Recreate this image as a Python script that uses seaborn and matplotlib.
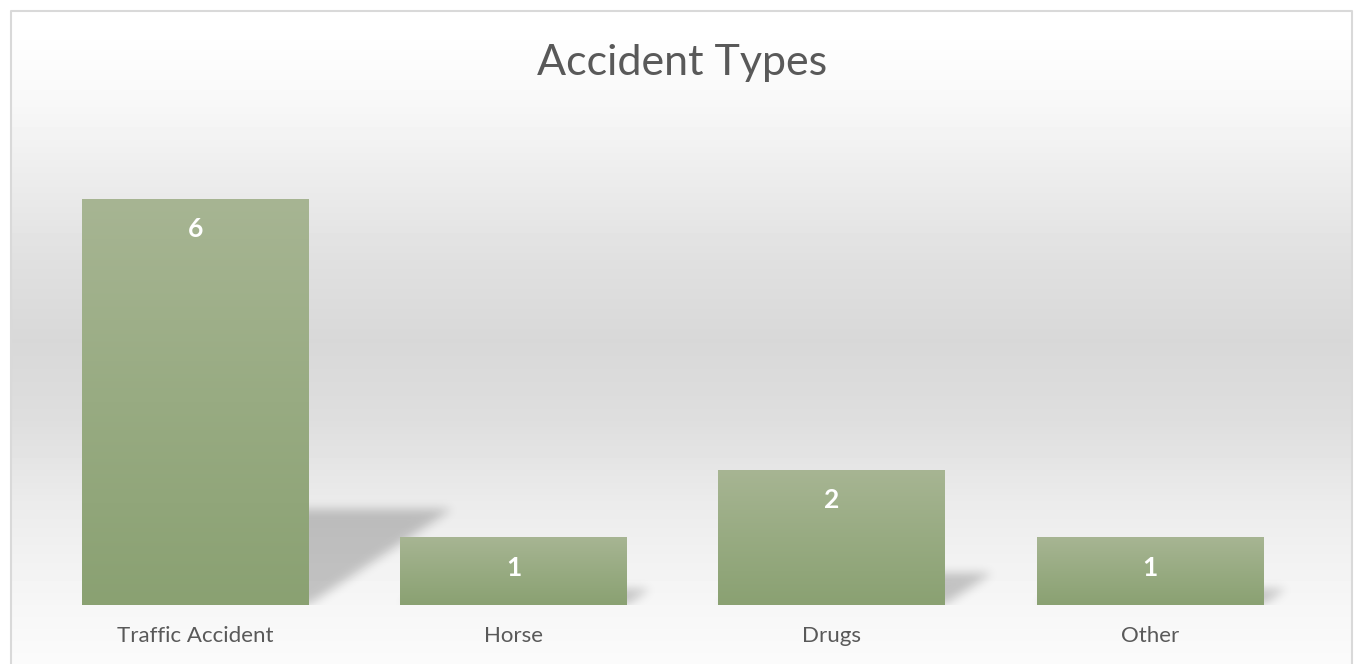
import numpy as np
import pandas as pd
import matplotlib
matplotlib.use("Agg")
import matplotlib.pyplot as plt
import seaborn as sns
from matplotlib.path import Path
from matplotlib.colors import LinearSegmentedColormap

# data
categories = ["Traffic Accident", "Horse", "Drugs", "Other"]
counts = [6, 1, 2, 1]
title = "Accident Types"

df = pd.DataFrame({"Type": categories, "Count": counts})

sns.set_theme(style="white")
plt.rcParams["font.family"] = ["Lato", "DejaVu Sans"]

W, H = 1356, 664
fig = plt.figure(figsize=(W / 100, H / 100), dpi=100)
fig.patch.set_facecolor("white")

# background: soft vertical grey gradient inside a light frame
bg = fig.add_axes([0, 0, 1, 1], zorder=0)
bg.set_axis_off()
rows = np.arange(H)
grey = np.interp(rows, [10, 40, 100, 180, 260, 340, 420, 500, 580, 664],
                 [255, 254, 248, 236, 224, 216, 222, 235, 244, 251]) / 255
img = np.tile(grey[:, None], (1, W))
img[:10, :] = 1
img[:, :11] = 1
img[:, 1353:] = 1
bg.imshow(img, cmap="gray", vmin=0, vmax=1, extent=[0, W, H, 0], aspect="auto")
bg.plot([11, 11, 1352, 1352], [H, 10.5, 10.5, H], color="#d9d9d9", lw=1.5)
bg.set_xlim(0, W)
bg.set_ylim(H, 0)

# plot area
AX_W, AX_H = 1273, 474
ax = fig.add_axes([36 / W, 59 / H, AX_W / W, AX_H / H], zorder=1)
ax.patch.set_alpha(0)
sns.barplot(data=df, x="Type", y="Count", color="#98ab80", saturation=1,
            width=0.711, ax=ax, zorder=3, edgecolor="none", linewidth=0)

XLIM, YLIM = (-0.5, 3.5), (0, 7)

# blurred perspective shadows behind the bars
gx = np.linspace(XLIM[0], XLIM[1], AX_W)
gy = np.linspace(YLIM[0], YLIM[1], AX_H)
GX, GY = np.meshgrid(gx, gy)
grid_pts = np.column_stack([GX.ravel(), GY.ravel()])
shadow = np.zeros((AX_H, AX_W))
keep = np.zeros((AX_H, AX_W))
for p in ax.patches:
    x0, w, h = p.get_x(), p.get_width(), p.get_height()
    x1 = x0 + w
    dx, dy = 0.075 * h, 0.235 * h
    poly = Path([(x0, 0), (x1, 0), (x1 + dx, dy), (x0 + dx, dy), (x0, 0)])
    shadow = np.maximum(shadow, poly.contains_points(grid_pts).reshape(AX_H, AX_W))
    keep[:, gx >= x0] = 1

k = np.arange(-15, 16)
kernel = np.exp(-k ** 2 / (2 * 5.0 ** 2))
kernel /= kernel.sum()
shadow = np.apply_along_axis(lambda r: np.convolve(r, kernel, mode="same"), 1, shadow)
shadow = np.apply_along_axis(lambda c: np.convolve(c, kernel, mode="same"), 0, shadow)
shadow *= keep
rgba = np.zeros((AX_H, AX_W, 4))
rgba[..., 3] = 0.21 * shadow
ax.imshow(rgba, extent=[XLIM[0], XLIM[1], YLIM[0], YLIM[1]], origin="lower",
          aspect="auto", zorder=2, interpolation="bilinear")

bar_cmap = LinearSegmentedColormap.from_list("bar", ["#8aa172", "#98ab82", "#a7b593"])
grad = np.linspace(0, 1, 256)[:, None]

for p, v in zip(ax.patches, counts):
    x0, w, h = p.get_x(), p.get_width(), p.get_height()
    # vertical gradient fill clipped to the bar
    im = ax.imshow(grad, cmap=bar_cmap, extent=[x0, x0 + w, 0, h], origin="lower",
                   aspect="auto", zorder=3.5)
    im.set_clip_path(p)
    p.set_facecolor("none")
    ax.annotate(str(v), (x0 + w / 2, h), xytext=(0, -22), textcoords="offset points",
                ha="center", va="center", color="white", fontweight="bold", fontsize=19,
                zorder=5)

ax.set_xlim(*XLIM)
ax.set_ylim(*YLIM)
ax.set_yticks([])
ax.set_xlabel("")
ax.set_ylabel("")
ax.tick_params(axis="x", length=0, pad=15, labelsize=16, labelcolor="#595959")
sns.despine(ax=ax, left=True, bottom=True)

fig.text(682 / W, 1 - 75 / H, title, ha="center", va="baseline",
         fontsize=31, color="#595959")

fig.savefig("out.png", dpi=100)
